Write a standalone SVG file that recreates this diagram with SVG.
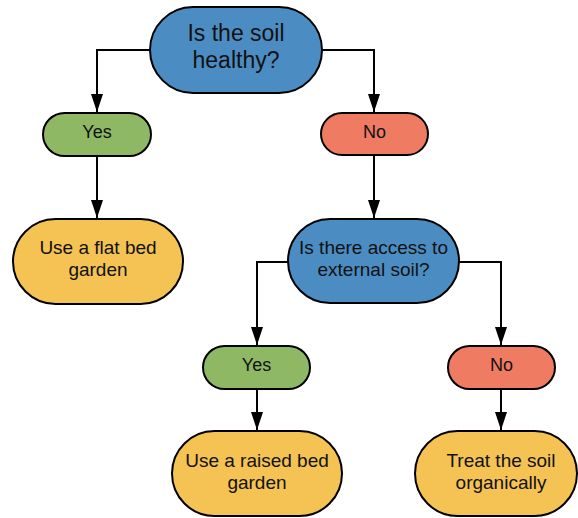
<svg xmlns="http://www.w3.org/2000/svg" width="578" height="518" viewBox="0 0 578 518">
  <style>
    .node { stroke: #000; stroke-width: 2; }
    .blue { fill: #4B8DC3; }
    .green { fill: #8FB865; }
    .red { fill: #EE7B62; }
    .yellow { fill: #F4C354; }
    text { font-family: "Liberation Sans", Arial, sans-serif; fill: #111; text-anchor: middle; }
    .big { font-size: 23px; }
    .mid { font-size: 19px; }
    .small { font-size: 18px; }
    .conn { fill: none; stroke: #000; stroke-width: 2; marker-end: url(#arrow); }
  </style>
  <defs>
    <marker id="arrow" markerUnits="userSpaceOnUse" markerWidth="18" markerHeight="12" refX="18" refY="6" orient="auto" viewBox="0 0 18 12">
      <polygon points="0,0 18,6 0,12" fill="#000"/>
    </marker>
  </defs>
  <g id="connectors">
    <path class="conn" d="M150,50 H97 V112"/>
    <path class="conn" d="M322,50 H374 V112"/>
    <path class="conn" d="M97,156 V218"/>
    <path class="conn" d="M374,155 V218"/>
    <path class="conn" d="M288,262 H257 V345"/>
    <path class="conn" d="M459,262 H501 V345"/>
    <path class="conn" d="M257,389 V430"/>
    <path class="conn" d="M501,389 V430"/>
  </g>
  <g id="q1">
    <rect class="node blue" x="150" y="7" width="172" height="86" rx="43"/>
    <text class="big" x="236" y="41">Is the soil</text>
    <text class="big" x="236" y="68">healthy?</text>
  </g>
  <g id="yes1">
    <rect class="node green" x="43" y="113" width="108" height="43" rx="21.5"/>
    <text class="small" x="97" y="138">Yes</text>
  </g>
  <g id="no1">
    <rect class="node red" x="321" y="113" width="107" height="42" rx="21"/>
    <text class="small" x="374.5" y="138">No</text>
  </g>
  <g id="flatbed">
    <rect class="node yellow" x="13" y="219" width="170" height="85" rx="42.5"/>
    <text class="mid" x="98" y="254">Use a flat bed</text>
    <text class="mid" x="98" y="276">garden</text>
  </g>
  <g id="q2">
    <rect class="node blue" x="288" y="219" width="171" height="84" rx="42"/>
    <text class="mid" x="373.5" y="254">Is there access to</text>
    <text class="mid" x="373.5" y="276">external soil?</text>
  </g>
  <g id="yes2">
    <rect class="node green" x="203" y="346" width="107" height="43" rx="21.5"/>
    <text class="small" x="256.5" y="371">Yes</text>
  </g>
  <g id="no2">
    <rect class="node red" x="448" y="346" width="107" height="43" rx="21.5"/>
    <text class="small" x="501.5" y="371">No</text>
  </g>
  <g id="raised">
    <rect class="node yellow" x="172" y="431" width="170" height="85" rx="42.5"/>
    <text class="mid" x="257" y="467">Use a raised bed</text>
    <text class="mid" x="257" y="489">garden</text>
  </g>
  <g id="treat">
    <rect class="node yellow" x="415" y="431" width="162" height="85" rx="42.5"/>
    <text class="mid" x="501" y="467">Treat the soil</text>
    <text class="mid" x="501" y="489">organically</text>
  </g>
</svg>
